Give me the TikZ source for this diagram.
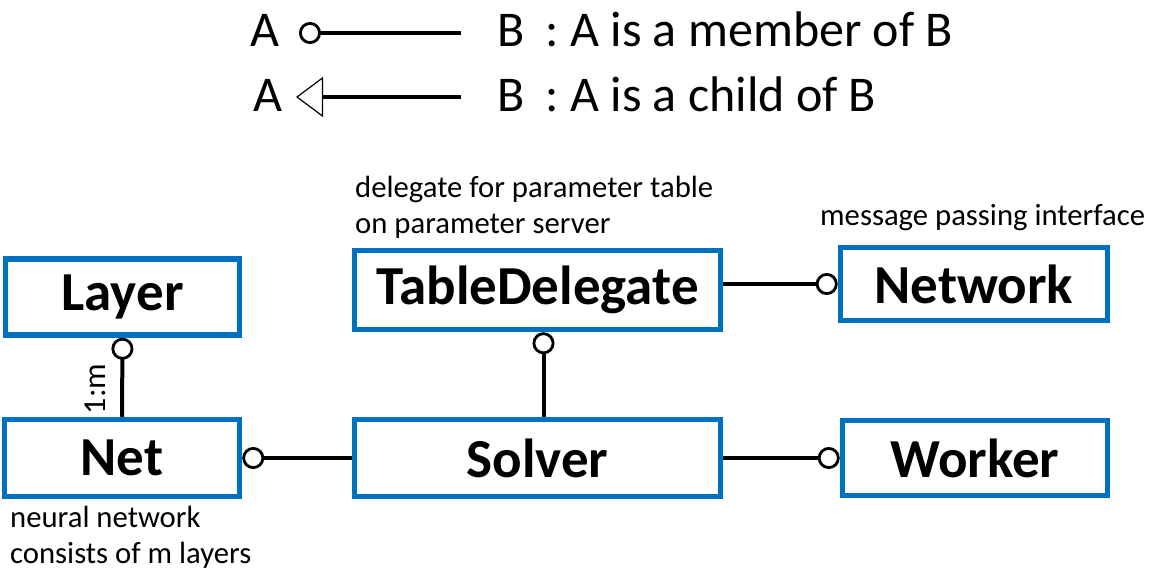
\documentclass[tikz,border=0pt]{standalone}
\usepackage{fontspec}
\setmainfont{Carlito}
\usetikzlibrary{arrows.meta}
\definecolor{boxblue}{RGB}{0,112,192}
\begin{document}
\begin{tikzpicture}[x=1pt,y=1pt,
  cls/.style={draw=boxblue, line width=5.5pt, rectangle, inner sep=0pt,
    font=\fontsize{55}{60}\selectfont\bfseries},
  conn/.style={line width=4pt},
  member/.style={conn, -{Circle[open,length=22pt,width=22pt,line width=2.8pt]}},
  child/.style={conn, -{Triangle[open,length=27pt,width=40pt,line width=1.2pt]}},
  note/.style={font=\fontsize{30.7}{36}\selectfont, align=left, inner sep=0pt},
  legend/.style={font=\fontsize{50}{52}\selectfont, inner sep=0pt},
  ratio/.style={font=\fontsize{32}{34}\selectfont, inner sep=0pt}]
\useasboundingbox (0,0) rectangle (1154,-582);

% legend
\node[legend, anchor=base] (a1) at (265,-46) {A};
\coordinate (m1) at (299,-33);
\coordinate (m2) at (461,-33);
\draw[member] (m2) -- (m1);
\node[legend, anchor=base west] (b1) at (497,-46) {B\hspace{10pt} : A is a member of B};

\node[legend, anchor=base] (a2) at (268,-111) {A};
\coordinate (c1) at (296,-97);
\coordinate (c2) at (461,-97);
\draw[child] (c2) -- (c1);
\node[legend, anchor=base west] (b2) at (497,-111) {B\hspace{10pt} : A is a child of B};

% classes
\node[cls, minimum width=234pt, minimum height=76pt] (layer) at (122.5,-297) {Layer};
\node[cls, minimum width=235pt, minimum height=77pt] (net) at (122,-458) {Net};
\node[cls, minimum width=366pt, minimum height=79pt] (td) at (537.5,-290) {TableDelegate};
\node[cls, minimum width=267pt, minimum height=73pt] (network) at (974,-284) {Network};
\node[cls, minimum width=366pt, minimum height=77pt] (solver) at (537.5,-458) {Solver};
\node[cls, minimum width=265pt, minimum height=75pt] (worker) at (975,-458) {Worker};

% notes
\node[note, anchor=north west] (tdnote) at (355,-176) {delegate for parameter table\\on parameter server};
\node[note, anchor=north west] (netnote) at (820,-204) {message passing interface};
\node[note, anchor=north west] (nnnote) at (10,-506) {neural network\\consists of m layers};

% connectors
\draw[member] (net.north) -- (layer.south);
\node[ratio, rotate=90, anchor=south] (ratiolabel) at (106,-389) {1:m};
\draw[member] (solver.west) -- (net.east);
\draw[member] ([xshift=6pt]solver.north) -- ([xshift=6pt]td.south);
\draw[member] (td.east |- network.west) -- (network.west);
\draw[member] (solver.east) -- (worker.west);
\end{tikzpicture}
\end{document}
